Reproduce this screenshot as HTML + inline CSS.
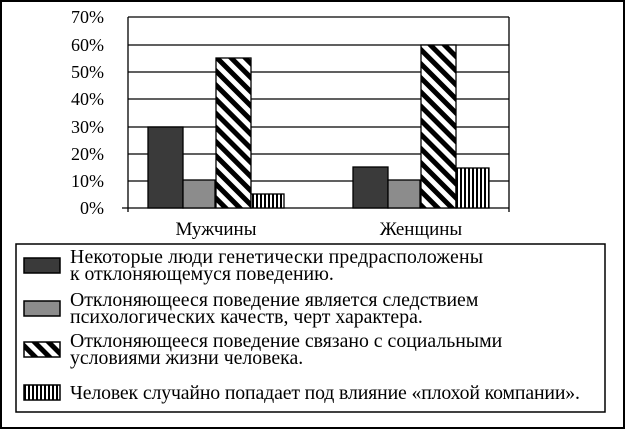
<!DOCTYPE html>
<html><head><meta charset="utf-8"><style>
body{margin:0;background:#fff}
svg text{font-family:"Liberation Serif",serif;fill:#000}
</style></head><body>
<svg width="625" height="429" viewBox="0 0 625 429" xmlns="http://www.w3.org/2000/svg">
<defs>
<pattern id="diag" patternUnits="userSpaceOnUse" width="10" height="10" patternTransform="rotate(-45)">
<rect width="10" height="10" fill="#fff"/><rect width="5" height="10" fill="#000"/></pattern>
<pattern id="vert" patternUnits="userSpaceOnUse" width="4" height="10">
<rect width="4" height="10" fill="#fff"/><rect width="2" height="10" fill="#000"/></pattern>
</defs>
<rect x="1" y="1" width="623" height="427" fill="#fff" stroke="#000" stroke-width="2"/>
<g stroke="#000" stroke-width="1.3">
<line x1="128" y1="17" x2="509" y2="17"/><line x1="128" y1="45" x2="509" y2="45"/>
<line x1="128" y1="72" x2="509" y2="72"/><line x1="128" y1="99" x2="509" y2="99"/>
<line x1="128" y1="127" x2="509" y2="127"/><line x1="128" y1="154" x2="509" y2="154"/>
<line x1="128" y1="181" x2="509" y2="181"/><line x1="122" y1="208" x2="509" y2="208"/>
<line x1="128" y1="17" x2="128" y2="212"/><line x1="509" y1="17" x2="509" y2="212"/>
</g>
<g font-size="18" text-anchor="end">
<text x="104" y="23">70%</text><text x="104" y="51">60%</text><text x="104" y="78">50%</text>
<text x="104" y="105">40%</text><text x="104" y="133">30%</text><text x="104" y="160">20%</text>
<text x="104" y="187">10%</text><text x="104" y="214">0%</text>
</g>
<g stroke="#000" stroke-width="1.3">
<rect x="148" y="127" width="35" height="81" fill="#3a3a3a"/>
<rect x="183" y="180" width="32" height="28" fill="#8c8c8c"/>
<rect x="216" y="58" width="35" height="150" fill="url(#diag)"/>
<rect x="251" y="194" width="33" height="14" fill="url(#vert)"/>
<rect x="353" y="167" width="35" height="41" fill="#3a3a3a"/>
<rect x="388" y="180" width="32" height="28" fill="#8c8c8c"/>
<rect x="421" y="45" width="35" height="163" fill="url(#diag)"/>
<rect x="456" y="168" width="33" height="40" fill="url(#vert)"/>
</g>
<g font-size="19" text-anchor="middle">
<text x="216" y="235">Мужчины</text><text x="421" y="235">Женщины</text>
</g>
<rect x="16" y="244" width="589" height="168" fill="none" stroke="#000" stroke-width="1.5"/>
<g stroke="#000" stroke-width="1.5">
<rect x="24" y="258" width="36" height="15" fill="#3a3a3a"/>
<rect x="24" y="301" width="36" height="15" fill="#8c8c8c"/>
<rect x="24" y="342" width="36" height="15" fill="url(#diag)"/>
<rect x="24" y="385" width="36" height="15" fill="url(#vert)"/>
</g>
<g font-size="19.8">
<text x="70" y="263" textLength="413">Некоторые люди генетически предрасположены</text>
<text x="70" y="280">к отклоняющемуся поведению.</text>
<text x="70" y="306">Отклоняющееся поведение является следствием</text>
<text x="70" y="323">психологических качеств, черт характера.</text>
<text x="70" y="347">Отклоняющееся поведение связано с социальными</text>
<text x="70" y="364">условиями жизни человека.</text>
<text x="70" y="399" textLength="510">Человек случайно попадает под влияние «плохой компании».</text>
</g>
</svg>
</body></html>
